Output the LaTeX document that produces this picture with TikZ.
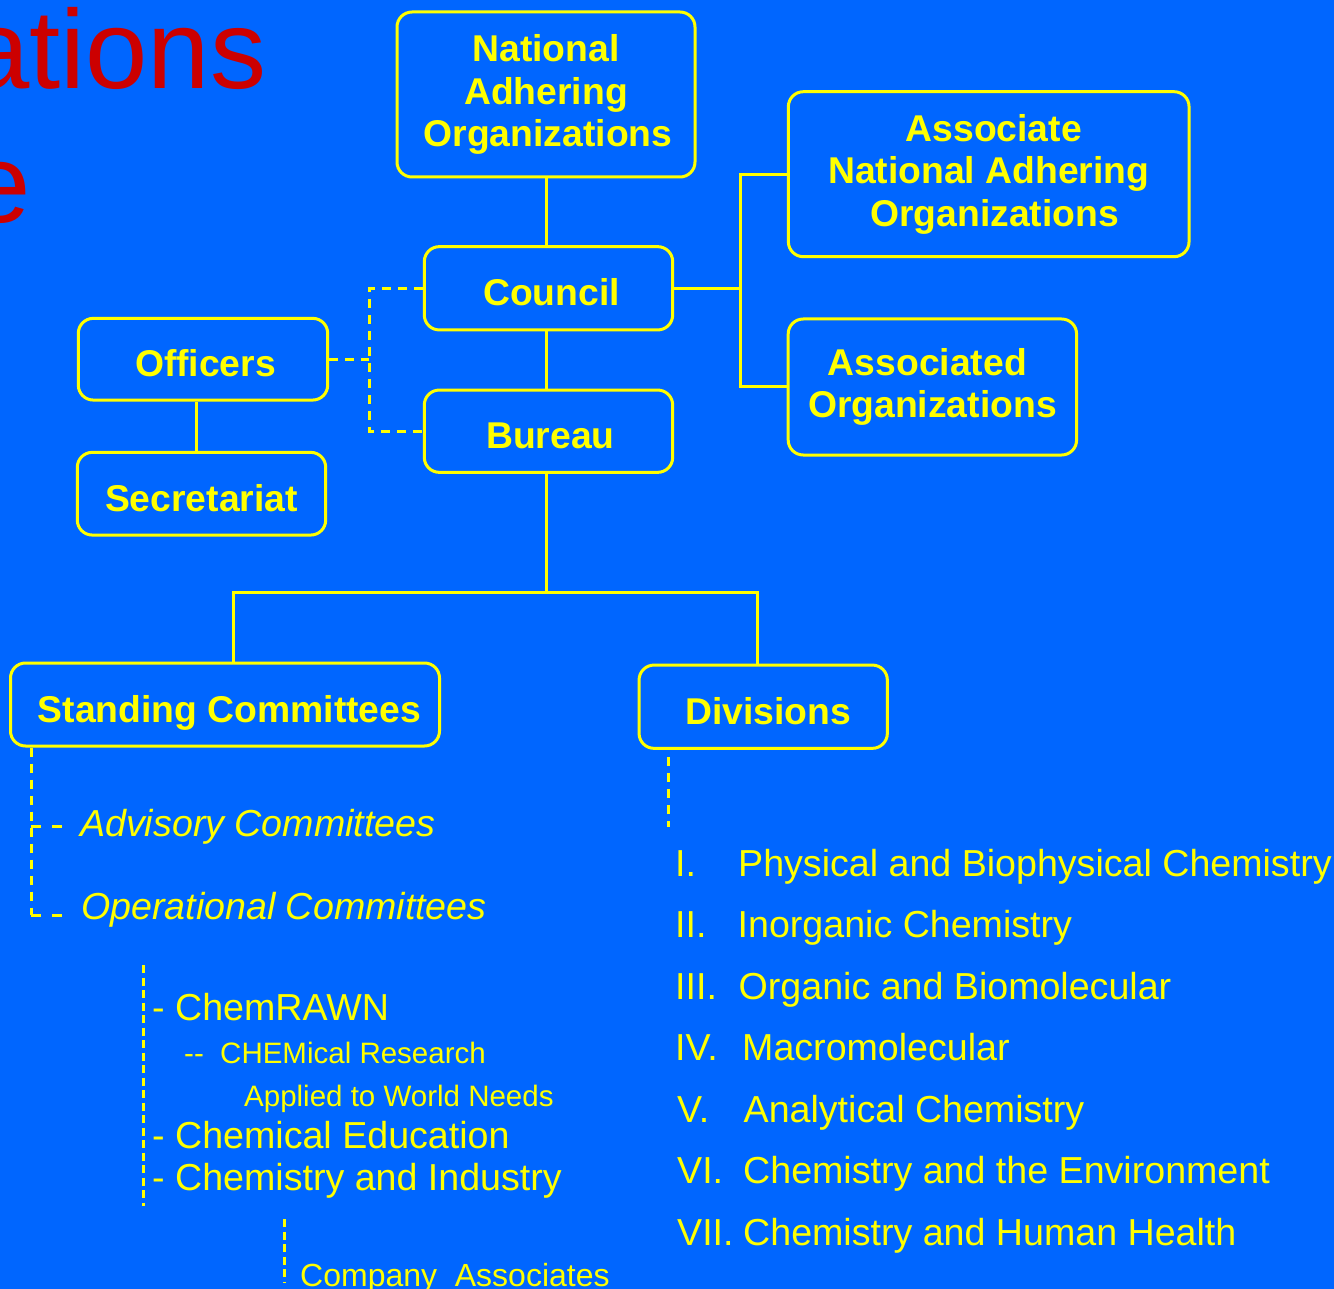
\documentclass[tikz,border=0pt]{standalone}
\usepackage{fontspec}
\setmainfont{Liberation Sans}
\definecolor{bg}{RGB}{0,102,255}
\definecolor{yl}{RGB}{255,255,0}
\definecolor{rd}{RGB}{204,0,0}
\tikzset{
  box/.style={draw=yl, line width=3pt, rounded corners=15pt, text=yl,
    font=\bfseries\fontsize{37.3}{42.3}\selectfont, align=center, inner sep=0pt},
  oneline/.style={text height=35pt, text depth=0pt},
  conn/.style={draw=yl, line width=3pt},
  dsh/.style={draw=yl, line width=3pt, dash pattern=on 9pt off 7pt},
  dshfine/.style={draw=yl, line width=3pt, dash pattern=on 8pt off 4.5pt},
  stub/.style={draw=yl, line width=3pt, dash pattern=on 10pt off 11pt},
  lst/.style={text=yl, font=\fontsize{37.6}{42}\selectfont, anchor=base west, inner sep=0pt},
  lstit/.style={lst, font=\itshape\fontsize{37.6}{42}\selectfont},
  lstsm/.style={lst, font=\fontsize{29.5}{32}\selectfont},
  lstco/.style={lst, font=\fontsize{32}{36}\selectfont},
  ttl/.style={text=rd, font=\fontsize{112}{120}\selectfont, anchor=base east, inner sep=0pt}
}
\begin{document}
\begin{tikzpicture}[x=1pt,y=-1pt]
\useasboundingbox (0,0) rectangle (1334,1289);
\clip (0,0) rectangle (1334,1289);
\fill[bg] (0,0) rectangle (1334,1289);

% red title fragments
\node[ttl] (t1) at (266.5,88.5) {ations};
\node[ttl] (t2) at (30.5,223) {e};

% boxes
\node[box, minimum width=298pt, minimum height=165pt] (nao) at (546,94.5) {National\\Adhering\\Organizations\kern-4pt};
\node[box, minimum width=400.7pt, minimum height=165pt] (anao) at (988.7,174.2) {\kern10pt Associate\\National Adhering\\\kern12pt Organizations};
\node[box, minimum width=288.4pt, minimum height=136pt] (ao) at (932.4,387) {Associated\kern10pt\\Organizations};
\node[box, oneline, minimum width=248.4pt, minimum height=83.3pt] (council) at (548.5,288.3) {\kern6pt Council};
\node[box, oneline, minimum width=248.4pt, minimum height=82.3pt] (bureau) at (548.5,431.2) {\kern4pt Bureau};
\node[box, oneline, minimum width=249.4pt, minimum height=81.7pt] (officers) at (203,359.2) {\kern5pt Officers};
\node[box, oneline, minimum width=248.4pt, minimum height=82.7pt] (secretariat) at (201.5,493.7) {Secretariat};
\node[box, oneline, minimum width=429pt, minimum height=83pt] (standing) at (225,704.5) {\kern9pt Standing Committees};
\node[box, oneline, minimum width=248.3pt, minimum height=83.3pt] (divisions) at (763.2,706.7) {\kern10pt Divisions};

% junction coordinates
\coordinate (rj) at (740,288.3);
\coordinate (dj) at (369.3,362);
\coordinate (sx) at (196.7,0);
\coordinate (bj) at (546,592);
\coordinate (sj) at (233,592);
\coordinate (dvj) at (757,592);

% solid connectors
\draw[conn] (nao.south) -- (nao.south |- council.north);
\draw[conn] (council.south -| nao.south) -- (bureau.north -| nao.south);
\draw[conn] (council.east) -- (rj);
\draw[conn] (anao.west) -| (rj) |- (ao.west);
\draw[conn] (officers.south -| sx) -- (secretariat.north -| sx);
\draw[conn] (bureau.south -| nao.south) -- (bj);
\draw[conn] (standing.north -| sj) -- (sj) -- (dvj) -- (divisions.north -| dvj);

% dashed connectors
\draw[dsh] (council.west) -| (dj) |- (bureau.west);
\draw[dsh] (officers.east) -- (officers.east -| dj);

% standing committees sub-list
\coordinate (sc1) at (31,826);
\coordinate (sc2) at (31,915);
\draw[dsh] (standing.south -| sc1) -- (sc2);
\draw[stub] (sc1) -- ++(31,0);
\draw[stub] (sc2) -- ++(31,0);
\node[lstit] (adv) at (80,836) {Advisory Committees};
\node[lstit] (ope) at (81,919) {Operational Committees};

% operational committees list
\coordinate (cv1) at (143.3,965);
\coordinate (cv2) at (143.3,1206);
\draw[dshfine] (cv1) -- (cv2);
\node[lst] (chemrawn) at (152,1020.7) {- ChemRAWN};
\node[lstsm] (chemres) at (184,1063) {-{}-\ \ CHEMical Research};
\node[lstsm] (applied) at (244,1106) {Applied to World Needs};
\node[lst] (chemedu) at (152,1148) {- Chemical Education};
\node[lst] (chemind) at (152,1190) {- Chemistry and Industry};
\coordinate (cp1) at (284.3,1219);
\coordinate (cp2) at (284.3,1282);
\draw[dshfine] (cp1) -- (cp2);
\node[lstco] (company) at (300,1286) {Company\ \ Associates};

% divisions list
\coordinate (dv) at (668,827);
\draw[dsh, dash phase=9pt] (divisions.south -| dv) -- (dv);
\node[lst] (n1) at (675,876.7) {I.};
\node[lst] (d1) at (738,876.7) {Physical and Biophysical Chemistry};
\node[lst] (n2) at (675,937.3) {II.};
\node[lst] (d2) at (737.5,937.3) {Inorganic Chemistry};
\node[lst] (n3) at (675,999) {III.};
\node[lst] (d3) at (738.5,999) {Organic and Biomolecular};
\node[lst] (n4) at (675,1060.5) {IV.};
\node[lst] (d4) at (742,1060.5) {Macromolecular};
\node[lst] (n5) at (677,1122) {V.};
\node[lst] (d5) at (743.5,1122) {Analytical Chemistry};
\node[lst] (n6) at (677,1183.5) {VI.};
\node[lst] (d6) at (743,1183.5) {Chemistry and the Environment};
\node[lst] (n7) at (677,1245) {VII.};
\node[lst] (d7) at (743,1245) {Chemistry and Human Health};
\end{tikzpicture}
\end{document}
